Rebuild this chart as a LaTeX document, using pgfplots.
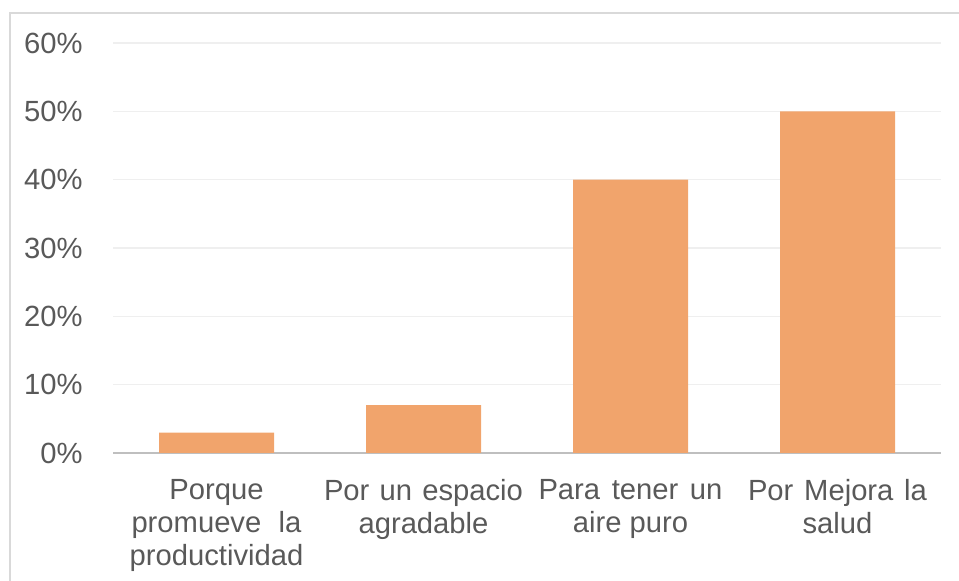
\documentclass[border=0pt]{standalone}
\usepackage{fontspec}
\setmainfont{Liberation Sans}
\usepackage{pgfplots}
\pgfplotsset{compat=1.18}
\definecolor{barc}{HTML}{F1A46C}
\definecolor{txt}{HTML}{595959}
\definecolor{gridc}{HTML}{EFEFEF}
\definecolor{basec}{HTML}{BFBFBF}
\definecolor{framec}{HTML}{D9D9D9}

\begin{document}
\begin{tikzpicture}
\useasboundingbox (-56.5bp,-64bp) rectangle (423bp,226.5bp);
\draw[framec, line width=1.2bp] (-51.5bp,-70bp) -- (-51.5bp,220bp) -- (430bp,220bp);
\begin{axis}[
  at={(0,0)}, anchor=south west,
  scale only axis,
  width=414bp, height=205bp,
  ybar, bar width=57.5bp,
  xmin=-0.5, xmax=3.5,
  ymin=0, ymax=60,
  xtick={0,1,2,3},
  xticklabels={
    Porque\\\makebox[85bp][s]{promueve la}\\productividad,
    \makebox[99.5bp][s]{Por un espacio}\\agradable,
    \makebox[92bp][s]{Para tener un}\\aire puro,
    \makebox[89.5bp][s]{Por Mejora la}\\salud},
  ytick={0,10,20,30,40,50,60},
  yticklabels={0\%,10\%,20\%,30\%,40\%,50\%,60\%},
  major tick length=0pt,
  separate axis lines,
  axis x line*=bottom,
  axis y line*=left,
  x axis line style={draw=basec, line width=1bp},
  y axis line style={draw=none},
  ymajorgrids,
  major grid style={draw=gridc, line width=0.75bp},
  tick label style={font=\fontsize{14.6bp}{16.5bp}\selectfont, text=txt},
  xticklabel style={align=center, inner sep=0pt, yshift=-13bp},
  yticklabel style={inner sep=0pt, xshift=-15bp},
]
\addplot[fill=barc, draw=none] coordinates {(0,3) (1,7) (2,40) (3,50)};
\end{axis}
\end{tikzpicture}
\end{document}
